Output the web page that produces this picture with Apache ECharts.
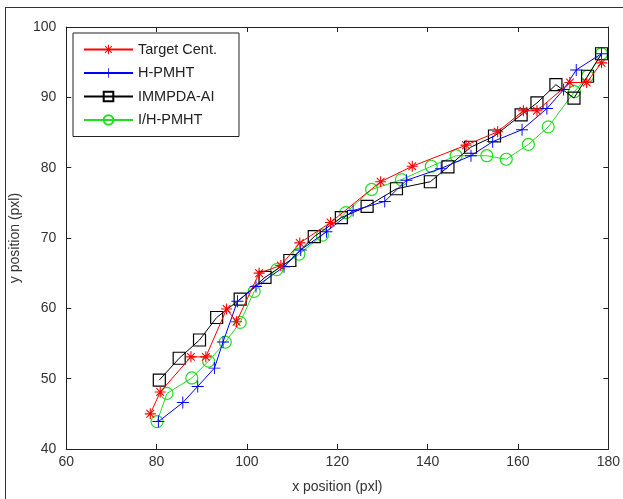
<!DOCTYPE html>
<html>
<head>
<meta charset="utf-8">
<script src="https://cdn.jsdelivr.net/npm/echarts@6/dist/echarts.min.js"></script>
<style>
html,body{margin:0;padding:0;background:#fff;}
#chart{width:623px;height:499px;}
</style>
</head>
<body>
<div id="chart"></div>
<script>
// ---- data ----
var xTicks = [60, 80, 100, 120, 140, 160, 180];
var yTicks = [40, 50, 60, 70, 80, 90, 100];

var seriesNames = ['Target Cent.', 'H-PMHT', 'IMMPDA-AI', 'I/H-PMHT'];

var targetX = [78.6, 80.8, 87.6, 90.9, 95.5, 97.7, 102.7, 107.5, 111.7, 118.5, 129.6, 136.6, 148.5, 155.5, 161.2, 164.2, 171.5, 175.2, 178.5];
var targetY = [45.0, 48.1, 53.1, 53.1, 59.9, 58.1, 65.0, 66.1, 69.3, 72.2, 78.0, 80.2, 83.2, 85.1, 88.1, 88.1, 92.1, 92.1, 94.9];

var hpmhtX = [80.4, 85.8, 89.1, 92.8, 94.7, 97.9, 102.0, 108.2, 111.9, 117.6, 123.5, 130.5, 135.3, 143.0, 149.6, 154.4, 160.9, 166.4, 170.1, 172.9, 178.5];
var hpmhtY = [43.9, 46.6, 48.9, 51.5, 55.2, 61.0, 63.1, 65.9, 68.3, 70.9, 73.9, 75.2, 78.2, 79.9, 81.7, 83.7, 85.4, 88.4, 91.1, 93.9, 96.2];

var immpdaX = [80.6, 85.0, 89.5, 93.3, 98.5, 104.0, 109.5, 114.9, 120.9, 126.6, 133.1, 140.6, 144.5, 149.5, 154.8, 160.7, 164.2, 168.4, 172.4, 175.4, 178.5];
var immpdaY = [49.8, 52.9, 55.5, 58.7, 61.3, 64.4, 66.8, 70.2, 72.9, 74.5, 77.0, 78.0, 80.1, 82.9, 84.5, 87.5, 89.2, 91.8, 89.9, 93.0, 96.2];

var ihpmhtX = [80.1, 82.3, 87.8, 91.5, 95.2, 98.5, 101.6, 106.6, 111.5, 116.7, 121.9, 127.6, 134.2, 140.8, 146.3, 153.1, 157.4, 162.3, 166.7, 172.5, 175.4, 178.5];
var ihpmhtY = [43.9, 47.9, 50.1, 52.5, 55.2, 58.0, 62.4, 65.5, 67.7, 70.4, 73.6, 76.9, 78.3, 80.2, 81.7, 81.7, 81.2, 83.3, 85.8, 90.8, 93.0, 96.2];

function pairs(xs, ys) {
  var out = [];
  for (var i = 0; i < xs.length; i++) out.push([xs[i], ys[i]]);
  return out;
}

var STAR = 'path://M9,0H11V20H9Z M0,9H20V11H0Z M2.3,3.7L3.7,2.3L17.7,16.3L16.3,17.7Z M16.3,2.3L17.7,3.7L3.7,17.7L2.3,16.3Z';
var PLUS = 'path://M9.2,0H10.8V20H9.2Z M0,9.2H20V10.8H0Z';

var RED = '#ff0000', BLUE = '#0000ff', BLACK = '#000000', GREEN = '#22dd22';
var FONT = 'Liberation Sans';

var chart = echarts.init(document.getElementById('chart'), null, {renderer: 'canvas'});

function axisCommon() {
  return {
    axisLine: {show: true, lineStyle: {color: '#222', width: 1}},
    axisTick: {show: true, inside: true, length: 5, lineStyle: {color: '#222', width: 1}},
    splitLine: {show: false}
  };
}

var option = {
  backgroundColor: '#ffffff',
  animation: false,
  grid: {left: 66, right: 9, top: 27, bottom: 48, containLabel: false},
  graphic: [
    {type: 'line', shape: {x1: 5, y1: 7.5, x2: 623, y2: 7.5}, style: {stroke: '#333', lineWidth: 1}},
    {type: 'line', shape: {x1: 5.5, y1: 7, x2: 5.5, y2: 499}, style: {stroke: '#333', lineWidth: 1}}
  ],
  legend: {
    orient: 'vertical',
    left: 73, top: 33,
    data: seriesNames,
    itemWidth: 49, itemHeight: 12, itemGap: 8.5,
    padding: [9, 22, 9, 10],
    borderColor: '#222', borderWidth: 1, backgroundColor: '#fff',
    textStyle: {fontFamily: FONT, fontSize: 14.5, color: '#222'}
  },
  xAxis: [
    Object.assign(axisCommon(), {
      type: 'value', min: xTicks[0], max: xTicks[xTicks.length - 1], interval: 20, position: 'bottom',
      axisLabel: {fontFamily: FONT, fontSize: 14, color: '#333', margin: 6},
      name: 'x position (pxl)', nameLocation: 'middle', nameGap: 31,
      nameTextStyle: {fontFamily: FONT, fontSize: 14, color: '#333'}
    }),
    Object.assign(axisCommon(), {
      type: 'value', min: xTicks[0], max: xTicks[xTicks.length - 1], interval: 20, position: 'top',
      axisLabel: {show: false}
    })
  ],
  yAxis: [
    Object.assign(axisCommon(), {
      type: 'value', min: yTicks[0], max: yTicks[yTicks.length - 1], interval: 10, position: 'left',
      axisLabel: {fontFamily: FONT, fontSize: 14, color: '#333', margin: 10},
      name: 'y position (pxl)', nameLocation: 'middle', nameGap: 41, nameRotate: 90,
      nameTextStyle: {fontFamily: FONT, fontSize: 14, color: '#333'}
    }),
    Object.assign(axisCommon(), {
      type: 'value', min: yTicks[0], max: yTicks[yTicks.length - 1], interval: 10, position: 'right',
      axisLabel: {show: false}
    })
  ],
  series: [
    {
      name: seriesNames[0], type: 'line', data: pairs(targetX, targetY),
      symbol: STAR, symbolSize: 11, showAllSymbol: true,
      lineStyle: {color: RED, width: 1}, itemStyle: {color: RED}, z: 4
    },
    {
      name: seriesNames[1], type: 'line', data: pairs(hpmhtX, hpmhtY),
      symbol: PLUS, symbolSize: 12, showAllSymbol: true,
      lineStyle: {color: BLUE, width: 1}, itemStyle: {color: BLUE}, z: 3
    },
    {
      name: seriesNames[2], type: 'line', data: pairs(immpdaX, immpdaY),
      symbol: 'rect', symbolSize: 12, showAllSymbol: true,
      lineStyle: {color: BLACK, width: 1},
      itemStyle: {color: 'rgba(0,0,0,0)', borderColor: BLACK, borderWidth: 1.2}, z: 2
    },
    {
      name: seriesNames[3], type: 'line', data: pairs(ihpmhtX, ihpmhtY),
      symbol: 'circle', symbolSize: 12, showAllSymbol: true,
      lineStyle: {color: GREEN, width: 1},
      itemStyle: {color: 'rgba(0,0,0,0)', borderColor: GREEN, borderWidth: 1.2}, z: 1
    }
  ]
};
chart.setOption(option);
</script>
</body>
</html>
